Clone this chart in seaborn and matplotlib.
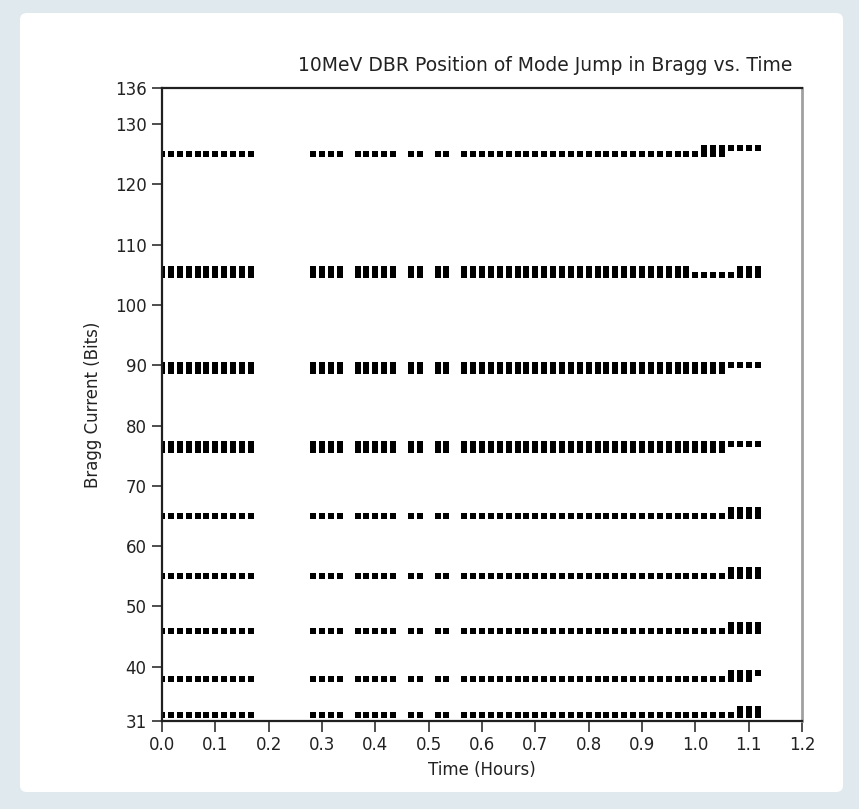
import numpy as np
import pandas as pd
import matplotlib
matplotlib.use("Agg")
import matplotlib.pyplot as plt
import seaborn as sns
from matplotlib.patches import FancyBboxPatch

# ---- data -------------------------------------------------------------
# sample times in minutes (converted to hours for the axis)
sample_minutes = (list(range(0, 11)) + list(range(17, 21)) + list(range(22, 27)) +
                  [28, 29, 31, 32] + list(range(34, 68)))

# each row: list of (first_minute, last_minute, [Bragg values present])
row_125 = [(0, 60, [125]), (61, 63, [125, 126]), (64, 67, [126])]
row_105 = [(0, 59, [105, 106]), (60, 64, [105]), (65, 67, [105, 106])]
row_90 = [(0, 63, [89, 90]), (64, 67, [90])]
row_77 = [(0, 63, [76, 77]), (64, 67, [77])]
row_65 = [(0, 63, [65]), (64, 67, [65, 66])]
row_55 = [(0, 63, [55]), (64, 67, [55, 56])]
row_46 = [(0, 63, [46]), (64, 67, [46, 47])]
row_38 = [(0, 63, [38]), (64, 66, [38, 39]), (67, 67, [39])]
row_32 = [(0, 64, [32]), (65, 67, [32, 33])]
rows = [row_125, row_105, row_90, row_77, row_65, row_55, row_46, row_38, row_32]

y_ticks = [31, 40, 50, 60, 70, 80, 90, 100, 110, 120, 130, 136]
x_ticks = [0.0, 0.1, 0.2, 0.3, 0.4, 0.5, 0.6, 0.7, 0.8, 0.9, 1.0, 1.1, 1.2]

title = "10MeV DBR Position of Mode Jump in Bragg vs. Time"
xlabel = "Time (Hours)"
ylabel = "Bragg Current (Bits)"

# ---- build table --------------------------------------------------------
recs = []
for row in rows:
    for m in sample_minutes:
        for (a, b, vals) in row:
            if a <= m <= b:
                for v in vals:
                    recs.append({"time": m / 60.0, "bragg": v})
df = pd.DataFrame(recs)

# ---- plot -------------------------------------------------------------
sns.set_style("white")
plt.rcParams["font.family"] = ["DejaVu Sans"]

fig = plt.figure(figsize=(8.59, 8.09), dpi=100, facecolor="#dfe9ee")
fig.patches.append(FancyBboxPatch((20 / 859, 1 - 792 / 809), (843 - 20) / 859, (792 - 13) / 809,
                                  boxstyle="round,pad=0,rounding_size=0.008",
                                  transform=fig.transFigure, facecolor="white",
                                  edgecolor="none", zorder=-10))
ax = fig.add_axes([162 / 859, 1 - 721 / 809, (802 - 162) / 859, (721 - 88) / 809])
ax.set_zorder(5)
ax.set_facecolor("white")

sns.scatterplot(data=df, x="time", y="bragg", marker="s", s=18, color="black",
                linewidth=0, ax=ax, legend=False)

ax.set_xlim(0, 1.2)
ax.set_ylim(31, 136)
ax.set_xticks(x_ticks)
ax.set_xticklabels([f"{v:.1f}" for v in x_ticks])
ax.set_yticks(y_ticks)
ax.set_yticklabels([str(v) for v in y_ticks])
ax.tick_params(axis="both", direction="out", length=7, width=1.2, color="#303030",
               labelsize=12, labelcolor="#222222", left=True, bottom=True)
ax.tick_params(axis="x", pad=3, length=8)
ax.tick_params(axis="y", pad=4)

for side in ["left", "bottom", "top"]:
    ax.spines[side].set_color("#202020")
    ax.spines[side].set_linewidth(1.6)
ax.spines["right"].set_color("#a0a0a0")
ax.spines["right"].set_linewidth(2)

ax.set_xlabel(xlabel, fontsize=12, color="#222222", labelpad=5)
ax.set_ylabel(ylabel, fontsize=12, color="#222222", labelpad=9)
ax.set_title(title, fontsize=13.5, color="#222222", loc="right", pad=12, x=0.985)

fig.savefig("out.png", dpi=100, facecolor=fig.get_facecolor())
